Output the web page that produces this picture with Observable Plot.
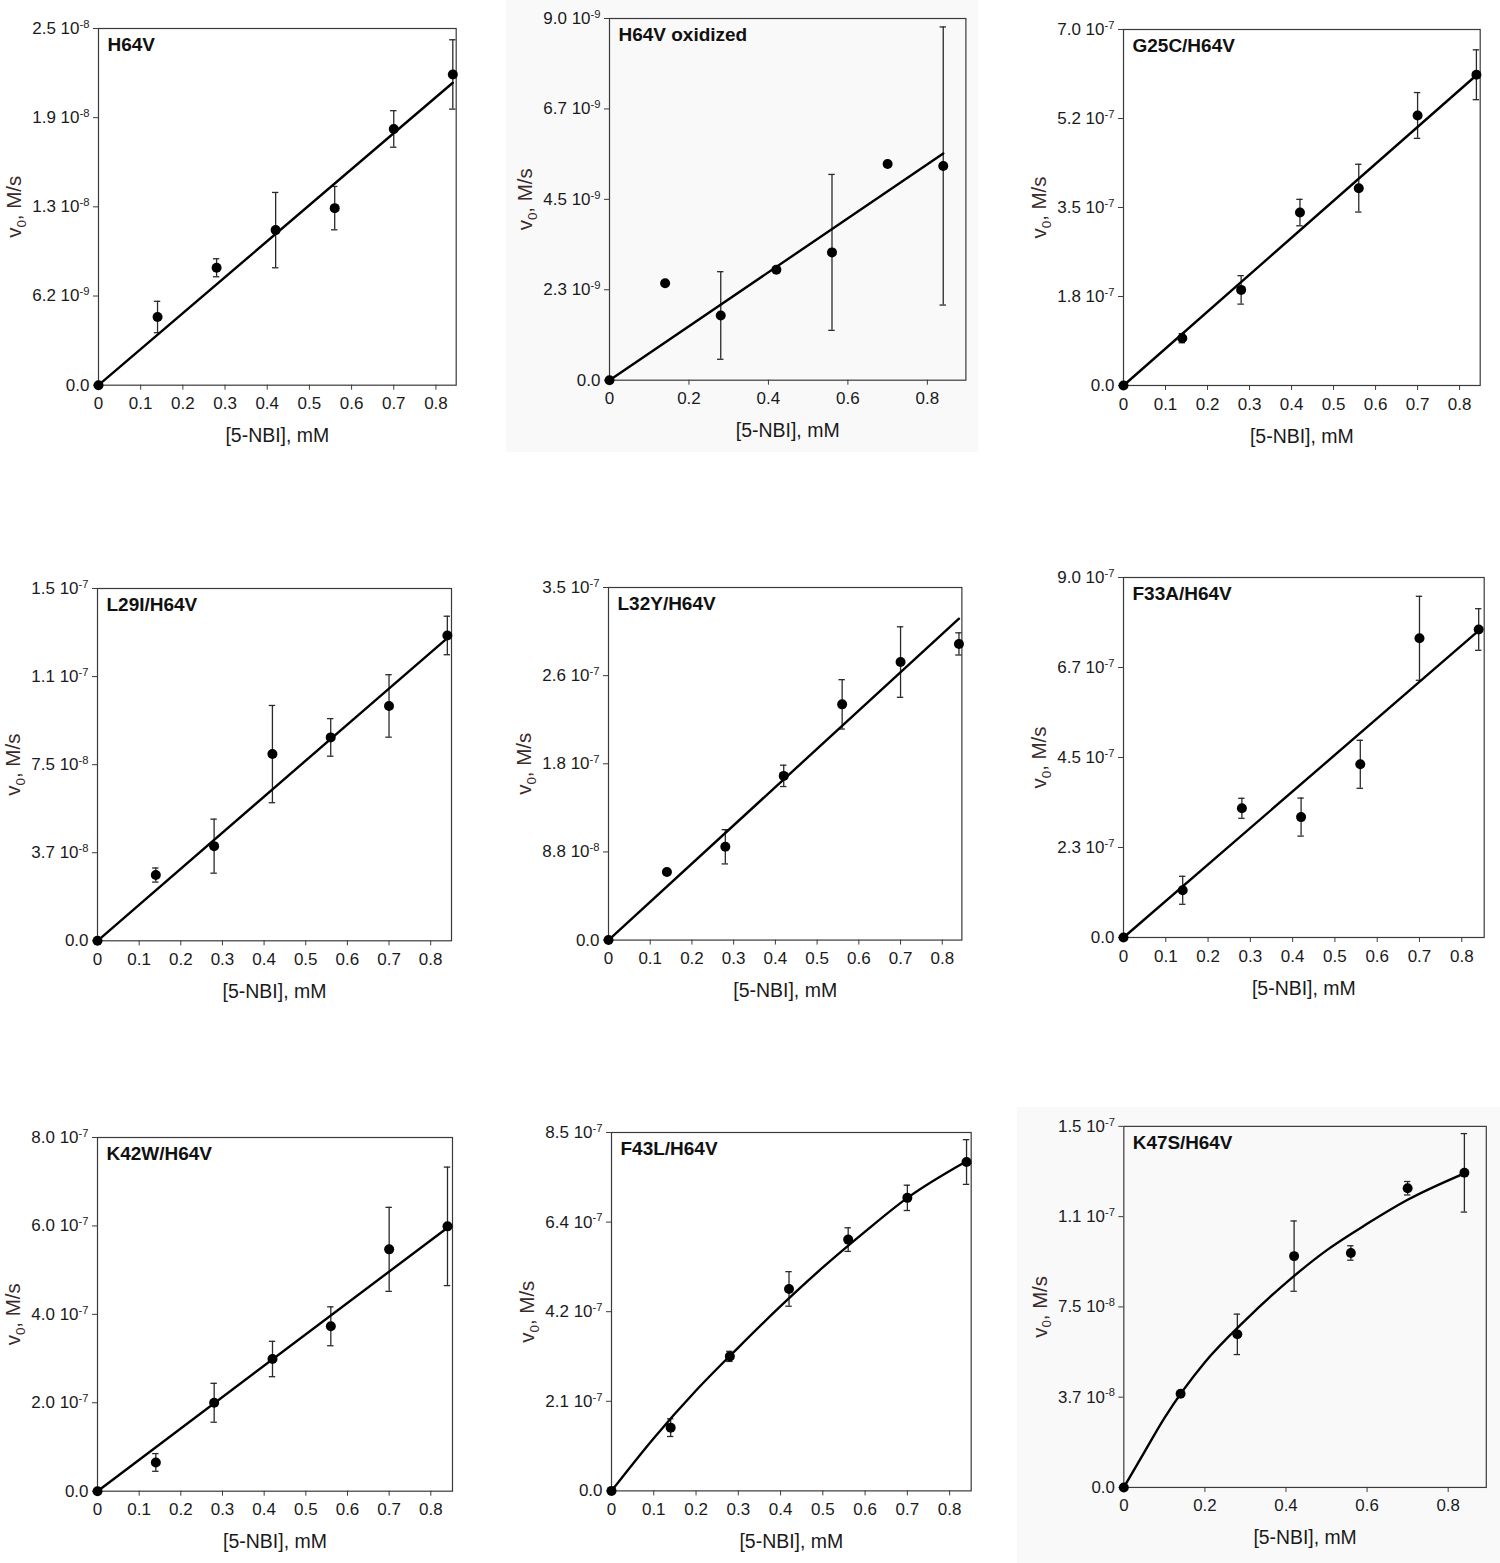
<!DOCTYPE html>
<html>
<head>
<meta charset="utf-8">
<script src="https://cdn.jsdelivr.net/npm/d3@7"></script>
<script src="https://cdn.jsdelivr.net/npm/@observablehq/plot@0.6"></script>
<style>
  html, body { margin: 0; padding: 0; background: #fff; }
  #wrap { position: relative; width: 1500px; height: 1563px; overflow: hidden; background: #fff; }
  .bg { position: absolute; background: #f9f9f9; }
  .panel { position: absolute; }
  .panel svg { overflow: visible; }
</style>
</head>
<body>
<div id="wrap">
  <div class="bg" style="left:506px;top:0px;width:472px;height:452px"></div>
  <div class="bg" style="left:1017px;top:1107px;width:483px;height:456px"></div>
</div>
<script>
// ---------------- DATA ----------------
const conc = [0, 0.14, 0.28, 0.42, 0.56, 0.70, 0.84];
const xLabel = "[5-NBI], mM";
const yLabel = "v_0, M/s";

const xTicksFine = [0, 0.1, 0.2, 0.3, 0.4, 0.5, 0.6, 0.7, 0.8];
const xTicksCoarse = [0, 0.2, 0.4, 0.6, 0.8];

// H64V
const h64vV   = [0, 4.78e-9, 8.23e-9, 10.87e-9, 12.41e-9, 17.96e-9, 21.78e-9];
const h64vErr = [0, 1.1e-9, 0.63e-9, 2.64e-9, 1.52e-9, 1.28e-9, 2.43e-9];
const h64vFitX = [0, 0.84];
const h64vFitY = [0, 2.12e-8];
const h64vYTicks = [0, 6.25e-9, 1.25e-8, 1.875e-8, 2.5e-8];
const h64vYLabels = ["0.0", "6.2 10^-9", "1.3 10^-8", "1.9 10^-8", "2.5 10^-8"];

// H64V oxidized
const oxV   = [0, 2.41e-9, 1.61e-9, 2.75e-9, 3.18e-9, 5.38e-9, 5.33e-9];
const oxErr = [0, 0, 1.09e-9, 0, 1.94e-9, 0, 3.46e-9];
const oxFitX = [0, 0.84];
const oxFitY = [0, 5.64e-9];
const oxYTicks = [0, 2.25e-9, 4.5e-9, 6.75e-9, 9.0e-9];
const oxYLabels = ["0.0", "2.3 10^-9", "4.5 10^-9", "6.7 10^-9", "9.0 10^-9"];

// G25C/H64V
const g25cV   = [0, 0.93e-7, 1.88e-7, 3.40e-7, 3.88e-7, 5.31e-7, 6.11e-7];
const g25cErr = [0, 0.09e-7, 0.28e-7, 0.26e-7, 0.47e-7, 0.45e-7, 0.49e-7];
const g25cFitX = [0, 0.84];
const g25cFitY = [0, 6.10e-7];
const g25cYTicks = [0, 1.75e-7, 3.5e-7, 5.25e-7, 7.0e-7];
const g25cYLabels = ["0.0", "1.8 10^-7", "3.5 10^-7", "5.2 10^-7", "7.0 10^-7"];

// L29I/H64V
const l29iV   = [0, 2.80e-8, 4.03e-8, 7.95e-8, 8.66e-8, 10.0e-8, 13.0e-8];
const l29iErr = [0, 0.3e-8, 1.15e-8, 2.07e-8, 0.8e-8, 1.33e-8, 0.82e-8];
const l29iFitX = [0, 0.84];
const l29iFitY = [0, 1.289e-7];
const l29iYTicks = [0, 3.75e-8, 7.5e-8, 1.125e-7, 1.5e-7];
const l29iYLabels = ["0.0", "3.7 10^-8", "7.5 10^-8", "1.1 10^-7", "1.5 10^-7"];

// L32Y/H64V
const l32yV   = [0, 0.675e-7, 0.926e-7, 1.63e-7, 2.34e-7, 2.76e-7, 2.94e-7];
const l32yErr = [0, 0, 0.17e-7, 0.106e-7, 0.245e-7, 0.35e-7, 0.11e-7];
const l32yFitX = [0, 0.84];
const l32yFitY = [0, 3.19e-7];
const l32yYTicks = [0, 0.875e-7, 1.75e-7, 2.625e-7, 3.5e-7];
const l32yYLabels = ["0.0", "8.8 10^-8", "1.8 10^-7", "2.6 10^-7", "3.5 10^-7"];

// F33A/H64V
const f33aV   = [0, 1.18e-7, 3.23e-7, 3.01e-7, 4.33e-7, 7.48e-7, 7.70e-7];
const f33aErr = [0, 0.35e-7, 0.25e-7, 0.475e-7, 0.6e-7, 1.05e-7, 0.52e-7];
const f33aFitX = [0, 0.84];
const f33aFitY = [0, 7.67e-7];
const f33aYTicks = [0, 2.25e-7, 4.5e-7, 6.75e-7, 9.0e-7];
const f33aYLabels = ["0.0", "2.3 10^-7", "4.5 10^-7", "6.7 10^-7", "9.0 10^-7"];

// K42W/H64V
const k42wV   = [0, 0.65e-7, 2.0e-7, 2.99e-7, 3.73e-7, 5.47e-7, 5.99e-7];
const k42wErr = [0, 0.2e-7, 0.44e-7, 0.4e-7, 0.44e-7, 0.95e-7, 1.34e-7];
const k42wFitX = [0, 0.84];
const k42wFitY = [0, 5.96e-7];
const k42wYTicks = [0, 2.0e-7, 4.0e-7, 6.0e-7, 8.0e-7];
const k42wYLabels = ["0.0", "2.0 10^-7", "4.0 10^-7", "6.0 10^-7", "8.0 10^-7"];

// F43L/H64V
const f43lV   = [0, 1.50e-7, 3.19e-7, 4.79e-7, 5.96e-7, 6.95e-7, 7.80e-7];
const f43lErr = [0, 0.21e-7, 0.12e-7, 0.41e-7, 0.28e-7, 0.3e-7, 0.53e-7];
const f43lFitX = [0, 0.1, 0.2, 0.3, 0.4, 0.5, 0.6, 0.7, 0.84];
const f43lFitY = [0, 1.25e-7, 2.38e-7, 3.40e-7, 4.38e-7, 5.30e-7, 6.15e-7, 6.95e-7, 7.82e-7];
const f43lYTicks = [0, 2.125e-7, 4.25e-7, 6.375e-7, 8.5e-7];
const f43lYLabels = ["0.0", "2.1 10^-7", "4.2 10^-7", "6.4 10^-7", "8.5 10^-7"];

// K47S/H64V
const k47sV   = [0, 3.89e-8, 6.36e-8, 9.61e-8, 9.74e-8, 12.43e-8, 13.07e-8];
const k47sErr = [0, 0, 0.84e-8, 1.46e-8, 0.3e-8, 0.28e-8, 1.63e-8];
const k47sFitX = [0, 0.05, 0.1, 0.2, 0.3, 0.4, 0.5, 0.6, 0.7, 0.84];
const k47sFitY = [0, 1.45e-8, 2.88e-8, 5.2e-8, 6.95e-8, 8.5e-8, 9.85e-8, 10.95e-8, 11.95e-8, 13.05e-8];
const k47sYTicks = [0, 3.75e-8, 7.5e-8, 1.125e-7, 1.5e-7];
const k47sYLabels = ["0.0", "3.7 10^-8", "7.5 10^-8", "1.1 10^-7", "1.5 10^-7"];

// ---------------- LAYOUT ----------------
const panels = [
  {title: "H64V", v: h64vV, err: h64vErr, fx: h64vFitX, fy: h64vFitY, yt: h64vYTicks, yl: h64vYLabels, xt: xTicksFine, xmax: 0.848,
   box: {l: 98.3, r: 456, t: 28.3, b: 385}},
  {title: "H64V oxidized", v: oxV, err: oxErr, fx: oxFitX, fy: oxFitY, yt: oxYTicks, yl: oxYLabels, xt: xTicksCoarse, xmax: 0.897,
   box: {l: 609.3, r: 965.7, t: 18.3, b: 380}},
  {title: "G25C/H64V", v: g25cV, err: g25cErr, fx: g25cFitX, fy: g25cFitY, yt: g25cYTicks, yl: g25cYLabels, xt: xTicksFine, xmax: 0.849,
   box: {l: 1123.3, r: 1480, t: 29, b: 385}},
  {title: "L29I/H64V", v: l29iV, err: l29iErr, fx: l29iFitX, fy: l29iFitY, yt: l29iYTicks, yl: l29iYLabels, xt: xTicksFine, xmax: 0.85,
   box: {l: 96.7, r: 450.7, t: 587.7, b: 940}},
  {title: "L32Y/H64V", v: l32yV, err: l32yErr, fx: l32yFitX, fy: l32yFitY, yt: l32yYTicks, yl: l32yYLabels, xt: xTicksFine, xmax: 0.847,
   box: {l: 608.3, r: 961.7, t: 586.7, b: 939.3}},
  {title: "F33A/H64V", v: f33aV, err: f33aErr, fx: f33aFitX, fy: f33aFitY, yt: f33aYTicks, yl: f33aYLabels, xt: xTicksFine, xmax: 0.853,
   box: {l: 1123.3, r: 1484, t: 577.3, b: 937.3}},
  {title: "K42W/H64V", v: k42wV, err: k42wErr, fx: k42wFitX, fy: k42wFitY, yt: k42wYTicks, yl: k42wYLabels, xt: xTicksFine, xmax: 0.852,
   box: {l: 96.7, r: 451.7, t: 1137.3, b: 1491}},
  {title: "F43L/H64V", v: f43lV, err: f43lErr, fx: f43lFitX, fy: f43lFitY, yt: f43lYTicks, yl: f43lYLabels, xt: xTicksFine, xmax: 0.851,
   box: {l: 611, r: 970.7, t: 1132.3, b: 1490.7}, curve: "monotone-x"},
  {title: "K47S/H64V", v: k47sV, err: k47sErr, fx: k47sFitX, fy: k47sFitY, yt: k47sYTicks, yl: k47sYLabels, xt: xTicksCoarse, xmax: 0.894,
   box: {l: 1124.3, r: 1489, t: 1126, b: 1489.3}, curve: "monotone-x"}
];

const FONT = "'Liberation Sans', Arial, Helvetica, sans-serif";
const ML = 110, MR = 14, MT = 20, MB = 80;
const wrap = document.getElementById("wrap");

function fixTexts(svg) {
  const ns = "http://www.w3.org/2000/svg";
  svg.querySelectorAll("text").forEach(t => {
    const s = t.textContent;
    if (s.includes("^")) {
      const [base, exp] = s.split("^");
      t.textContent = base;
      const sp = document.createElementNS(ns, "tspan");
      sp.setAttribute("dy", "-0.55em");
      sp.setAttribute("font-size", "0.66em");
      sp.textContent = exp;
      t.appendChild(sp);
    } else if (s === yLabel) {
      t.textContent = "";
      const a = document.createElementNS(ns, "tspan"); a.textContent = "v";
      const b = document.createElementNS(ns, "tspan"); b.textContent = "0";
      b.setAttribute("dy", "0.35em"); b.setAttribute("font-size", "0.65em");
      const c = document.createElementNS(ns, "tspan"); c.textContent = ", M/s";
      c.setAttribute("dy", "-0.23em");
      t.appendChild(a); t.appendChild(b); t.appendChild(c);
    }
  });
}

panels.forEach(p => {
  const fw = p.box.r - p.box.l, fh = p.box.b - p.box.t;
  const pts = conc.map((x, i) => ({x, y: p.v[i], e: p.err[i]}));
  const bars = pts.filter(d => d.e > 0);
  const fit = p.fx.map((x, i) => ({x, y: p.fy[i]}));
  const cap = 3.2 * p.xmax / fw;
  const ymap = new Map(p.yt.map((t, i) => [t, p.yl[i]]));

  const svg = Plot.plot({
    width: fw + ML + MR,
    height: fh + MT + MB,
    marginLeft: ML, marginRight: MR, marginTop: MT, marginBottom: MB,
    style: {fontFamily: FONT, fontSize: "17px", color: "#1a1a1a", background: "transparent", overflow: "visible"},
    x: {domain: [0, p.xmax], label: null},
    y: {domain: [0, p.yt[p.yt.length - 1]], label: null},
    marks: [
      Plot.frame({stroke: "#3a3a3a", strokeWidth: 1.2}),
      Plot.axisX({ticks: p.xt, tickFormat: d => d === 0 ? "0" : d.toFixed(1), tickSize: 5, tickPadding: 7, fontSize: 17, label: null, stroke: "#3a3a3a"}),
      Plot.axisY({ticks: p.yt, tickFormat: d => ymap.get(d), tickSize: 5, tickPadding: 4, fontSize: 17, label: null, stroke: "#3a3a3a"}),
      Plot.ruleX(bars, {x: "x", y1: d => d.y - d.e, y2: d => d.y + d.e, stroke: "#2a2a2a", strokeWidth: 1.3}),
      Plot.ruleY(bars, {y: d => d.y - d.e, x1: d => d.x - cap, x2: d => d.x + cap, stroke: "#2a2a2a", strokeWidth: 1.3}),
      Plot.ruleY(bars, {y: d => d.y + d.e, x1: d => d.x - cap, x2: d => d.x + cap, stroke: "#2a2a2a", strokeWidth: 1.3}),
      Plot.line(fit, {x: "x", y: "y", stroke: "#000", strokeWidth: 2.4, curve: p.curve || "linear"}),
      Plot.dot(pts, {x: "x", y: "y", r: 5, fill: "#000", stroke: "none"}),
      Plot.text([p.title], {frameAnchor: "top-left", dx: 9, dy: 9.5, text: d => d, fontWeight: "bold", fontSize: 19, textAnchor: "start", lineAnchor: "top", fill: "#111"}),
      Plot.text([xLabel], {frameAnchor: "bottom", dy: 51, text: d => d, fontSize: 19.5, textAnchor: "middle", lineAnchor: "middle", fill: "#1a1a1a"}),
      Plot.text([yLabel], {frameAnchor: "left", dx: -84, text: d => d, fontSize: 20.5, rotate: -90, textAnchor: "middle", lineAnchor: "middle", fill: "#3b2a2a"})
    ]
  });
  fixTexts(svg);
  const div = document.createElement("div");
  div.className = "panel";
  div.style.left = (p.box.l - ML) + "px";
  div.style.top = (p.box.t - MT) + "px";
  div.appendChild(svg);
  wrap.appendChild(div);
});
</script>
</body>
</html>
